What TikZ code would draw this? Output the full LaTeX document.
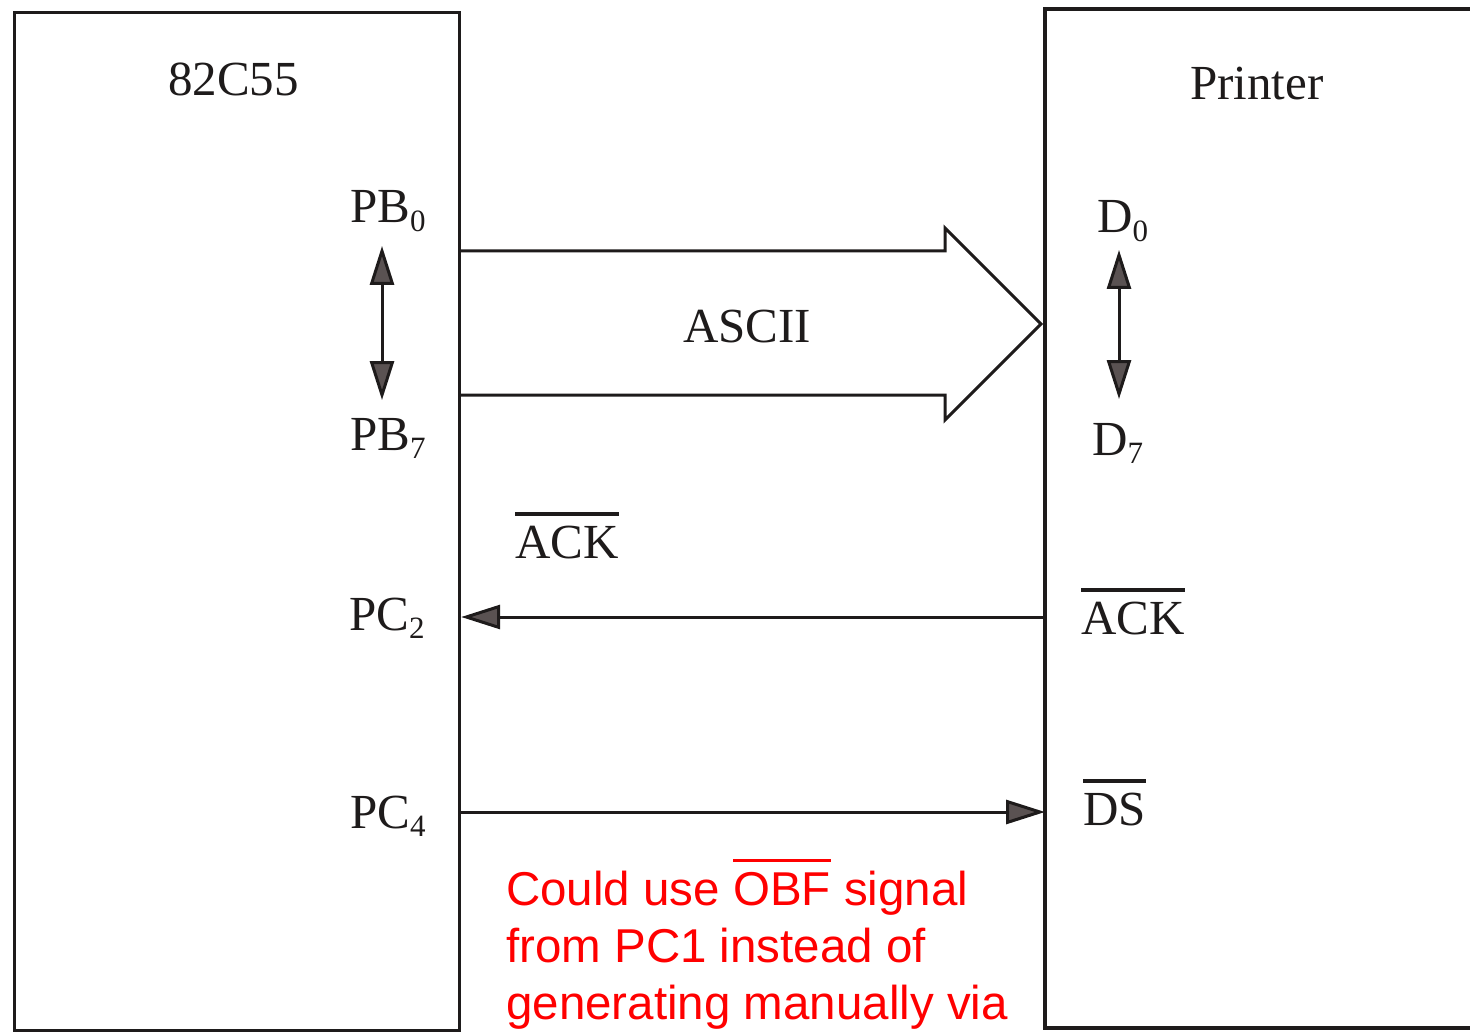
\documentclass[tikz,border=0pt]{standalone}
\usepackage{fontspec}
\setmainfont{Liberation Serif}
\newfontfamily\notefont{Liberation Sans}
\usetikzlibrary{arrows.meta}

% lowered index digit (PB0, D7, ...)
\newcommand\lowidx[1]{\raisebox{-0.17em}{\fontsize{31}{31}\selectfont #1}}
% active-low signal name with a bar over it
\newcommand\barred[1]{\setbox0=\hbox{#1}\rlap{\raisebox{\dimexpr\ht0+0.2em\relax}{\rule{\wd0}{0.07em}}}\box0\relax}

\definecolor{ink}{HTML}{1E1B1B}
\definecolor{headgray}{HTML}{5A5252}

\tikzset{
  frame/.style={draw=ink, line width=3.2pt, line join=miter},
  lbl/.style={anchor=base west, inner sep=0pt, text=ink,
    font=\fontsize{49}{58}\selectfont},
  sig/.style={draw=ink, line width=3pt},
  tip/.tip={Triangle[length=39pt, width=24pt, fill=headgray]},
  bus/.style={draw=ink, line width=3pt, line join=miter},
  note/.style={anchor=base west, inner sep=0pt, text=red, align=left,
    font=\notefont\fontsize{47.5}{57}\selectfont},
}

\begin{document}
\begin{tikzpicture}[x=1pt, y=-1pt]
\useasboundingbox (0,0) rectangle (1470,1032);
\fill[white] (0,0) rectangle (1470,1032);

% 82C55 block
\node[frame, anchor=north west, inner sep=0pt,
      minimum width=445pt, minimum height=1018pt] (chip) at (13,11) {};

% printer block (runs off the right side)
\coordinate (prnTL) at (1045,9);
\coordinate (prnBL) at (1045,1028);
\draw[frame] (1470,9) -- (prnTL) -- (prnBL) -- (1470,1028);

% titles
\node[lbl] (title82) at (168,96) {82C55};
\node[lbl] (titlePr) at (1190,100) {Printer};

% 82C55 pin labels
\node[lbl] (pb0) at (350,223) {PB\lowidx{0}};
\node[lbl] (pb7) at (350,450) {PB\lowidx{7}};
\node[lbl] (pc2) at (349,630) {PC\lowidx{2}};
\node[lbl] (pc4) at (350,828) {PC\lowidx{4}};

% printer pin labels
\node[lbl] (d0) at (1097,233) {D\lowidx{0}};
\node[lbl] (d7) at (1092,455) {D\lowidx{7}};
\node[lbl] (ackR) at (1081,634) {\barred{ACK}};
\node[lbl] (dsR) at (1083,825) {\barred{DS}};

% bus range arrows
\coordinate (pbT) at (382,246);
\coordinate (pbB) at (382,400);
\draw[sig, {tip}-{tip}] (pbT) -- (pbB);
\coordinate (dT) at (1119,250);
\coordinate (dB) at (1119,399);
\draw[sig, {tip}-{tip}] (dT) -- (dB);

% ASCII data bus (wide arrow)
\coordinate (busTip) at (1041,324);
\draw[bus] (chip.east |- 0,251) -- (945,251) -- (945,228) -- (busTip)
  -- (945,420) -- (945,395) -- (chip.east |- 0,395);
\node[lbl] (ascii) at (683,342) {ASCII};

% acknowledge: printer -> PC2
\coordinate (ackP) at (prnTL |- 0,617);
\draw[sig, -{tip}] (ackP) -- (chip.east |- ackP);
\node[lbl] (ackL) at (515,558) {\barred{ACK}};

% data strobe: PC4 -> printer
\coordinate (dsC) at (chip.east |- 0,812);
\draw[sig, -{tip}] (dsC) -- (prnTL |- dsC);

% annotation (base anchor sits on the last line)
\node[note] (remark) at (506,1019)
  {Could use \barred{OBF} signal\\from PC1 instead of\\generating manually via};
\end{tikzpicture}
\end{document}
